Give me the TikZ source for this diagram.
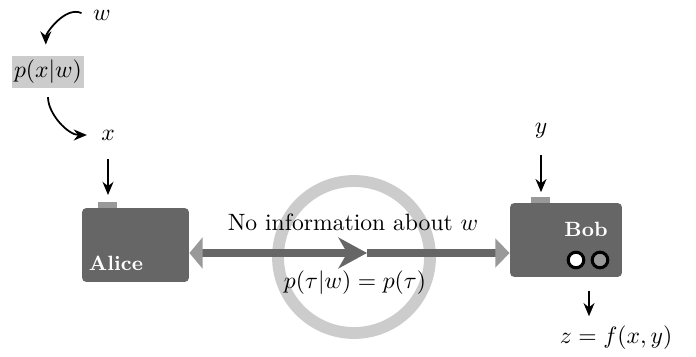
\RequirePackage{fix-cm}
\documentclass[tikz,border=0pt]{standalone}
\usepackage{amsmath}
\usepackage{xcolor}
\usepackage{tikz}
\usetikzlibrary{positioning,arrows.meta}
\definecolor{Dev}{HTML}{666666}
\definecolor{Tab}{HTML}{999999}
\definecolor{Pale}{HTML}{CCCCCC}

\begin{document}
\begin{tikzpicture}[
      x=0.016cm, y=0.016cm,
      every node/.style={font=\fontsize{10.75}{13}\selectfont},
      dev/.style={fill=Dev, rounded corners=2pt, minimum height=1.184cm, inner sep=0pt},
      devtab/.style={fill=Tab, minimum width=0.304cm, minimum height=0.096cm, inner sep=0pt},
      devname/.style={text=white, font=\fontsize{9.4}{11}\selectfont\bfseries},
      led/.style={draw=black, line width=1.4pt, circle, minimum size=0.25cm, inner sep=0pt},
      arr/.style={-{Stealth[length=6pt,width=5pt]}, thick},
      link/.style={draw=Dev, line width=3.2pt}
    ]
    \useasboundingbox (0,0) rectangle (696,356);

    % source and sampling
    \node (w) at (102,341) {$w$};
    \node[fill=Pale, minimum width=1.136cm, minimum height=0.512cm, inner sep=1pt] (pxw) at (48,284) {$p(x|w)$};
    \node (x) at (108,221) {$x$};
    \draw[arr, shorten <=2pt, shorten >=5pt] (w.west) to[out=155, in=90] ([xshift=-1pt]pxw.north);
    \draw[arr, shorten <=4pt, shorten >=3pt] (pxw.south) to[out=-90, in=180] (x.west);

    % the no-information ring
    \coordinate (mid) at (354,103);
    \coordinate (midtip) at (367,103);
    \draw[Pale, line width=5.4pt] (354,99) circle (76);

    % Alice
    \node[dev, minimum width=1.712cm] (alice) at (135.5,111) {};
    \node[devtab] (alicetab) at (107.5,151) {};
    \node[devname] (alicename) at (116,93) {Alice};
    \draw[arr, shorten <=5pt, shorten >=3pt] (x.south) -- (alicetab.north -| x.south);

    % Bob
    \node[dev, minimum width=1.792cm] (bob) at (566,116) {};
    \node[devtab] (bobtab) at (540.5,156) {};
    \node[devname] (bobname) at (586,127) {Bob};
    \node[led, fill=white] (led1) at (576,96) {};
    \node[led, fill=Tab] (led2) at (600,96) {};
    \node (y) at (541,225) {$y$};
    \draw[arr, shorten <=4pt, shorten >=2pt] (y.south) -- (bobtab.north -| y.south);

    % output
    \node (z) at (616,18) {$z=f(x,y)$};
    \coordinate (zin) at (589,66);
    \draw[arr, shorten <=6pt, shorten >=1pt] (bob.south -| zin) -- (zin |- z.north);

    % channel
    \draw[link, {Triangle[length=6pt,width=14pt,color=Tab,fill=Tab]}-{Stealth[length=13pt,width=14pt,inset=4pt]}] (alice.east |- mid) -- (midtip);
    \draw[link, -{Triangle[length=6.5pt,width=13pt,color=Tab,fill=Tab]}] (midtip) -- (bob.west |- mid);
    \node (noinfo) at (353,134) {No information about $w$};
    \node (indep) at (355,73) {$p(\tau|w)=p(\tau)$};
  \end{tikzpicture}
\end{document}
